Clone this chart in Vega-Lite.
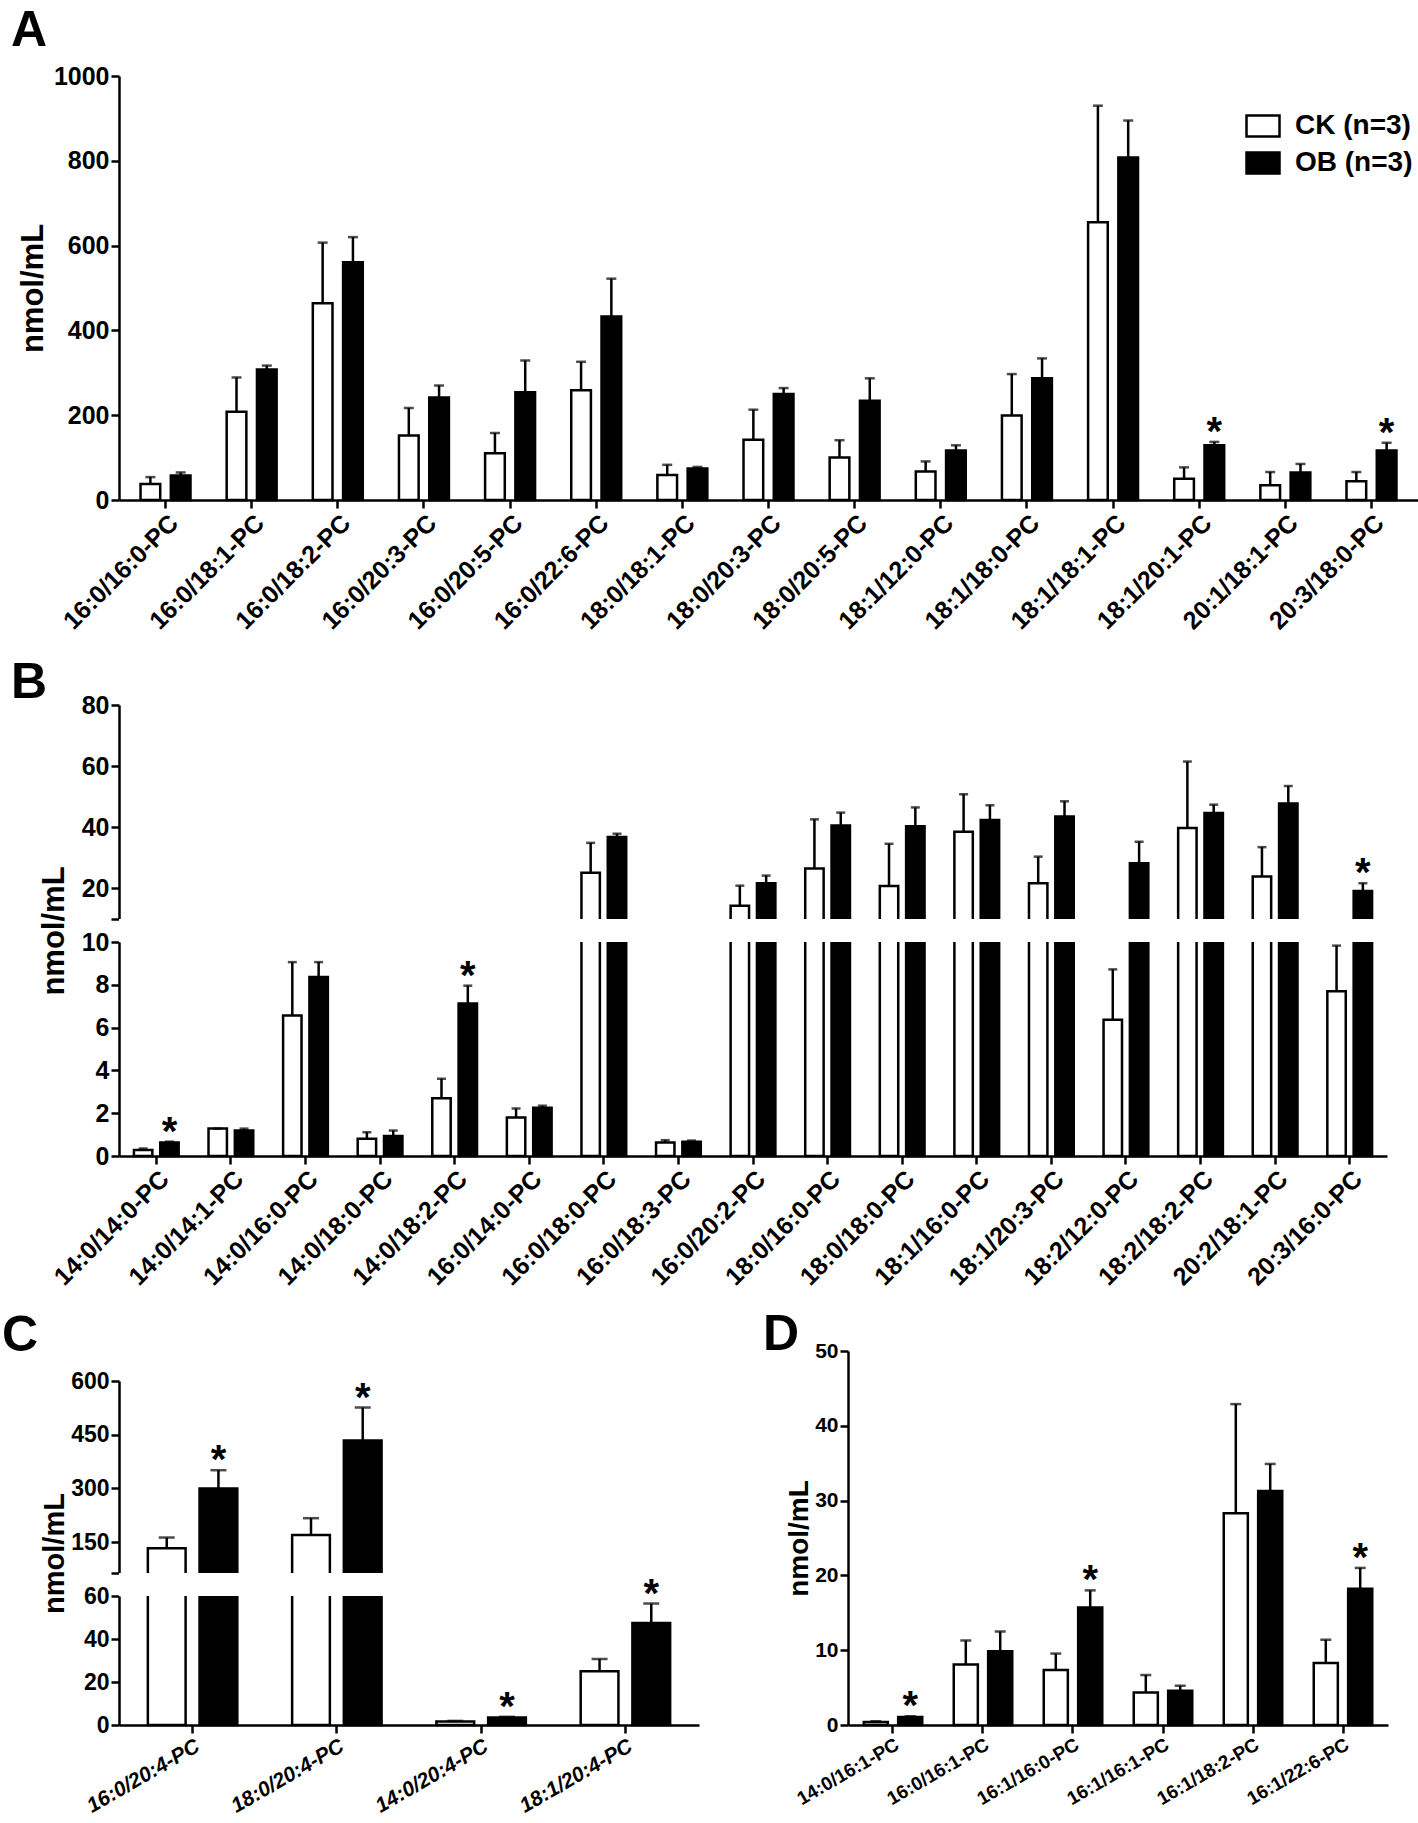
{
  "$schema": "https://vega.github.io/schema/vega-lite/v6.json",
  "background": "white",
  "padding": {"left": 2, "top": 6, "right": 5, "bottom": 3},
  "datasets": {
    "A": [
      {"lipid": "16:0/16:0-PC", "group": "CK", "mean": 38, "upper": 54, "sig": false},
      {"lipid": "16:0/16:0-PC", "group": "OB", "mean": 58, "upper": 65, "sig": false},
      {"lipid": "16:0/18:1-PC", "group": "CK", "mean": 208, "upper": 289, "sig": false},
      {"lipid": "16:0/18:1-PC", "group": "OB", "mean": 308, "upper": 317, "sig": false},
      {"lipid": "16:0/18:2-PC", "group": "CK", "mean": 464, "upper": 607, "sig": false},
      {"lipid": "16:0/18:2-PC", "group": "OB", "mean": 561, "upper": 620, "sig": false},
      {"lipid": "16:0/20:3-PC", "group": "CK", "mean": 152, "upper": 217, "sig": false},
      {"lipid": "16:0/20:3-PC", "group": "OB", "mean": 242, "upper": 270, "sig": false},
      {"lipid": "16:0/20:5-PC", "group": "CK", "mean": 110, "upper": 158, "sig": false},
      {"lipid": "16:0/20:5-PC", "group": "OB", "mean": 254, "upper": 329, "sig": false},
      {"lipid": "16:0/22:6-PC", "group": "CK", "mean": 259, "upper": 326, "sig": false},
      {"lipid": "16:0/22:6-PC", "group": "OB", "mean": 433, "upper": 522, "sig": false},
      {"lipid": "18:0/18:1-PC", "group": "CK", "mean": 59, "upper": 83, "sig": false},
      {"lipid": "18:0/18:1-PC", "group": "OB", "mean": 74, "upper": 78, "sig": false},
      {"lipid": "18:0/20:3-PC", "group": "CK", "mean": 142, "upper": 213, "sig": false},
      {"lipid": "18:0/20:3-PC", "group": "OB", "mean": 250, "upper": 264, "sig": false},
      {"lipid": "18:0/20:5-PC", "group": "CK", "mean": 100, "upper": 141, "sig": false},
      {"lipid": "18:0/20:5-PC", "group": "OB", "mean": 234, "upper": 287, "sig": false},
      {"lipid": "18:1/12:0-PC", "group": "CK", "mean": 67, "upper": 91, "sig": false},
      {"lipid": "18:1/12:0-PC", "group": "OB", "mean": 117, "upper": 129, "sig": false},
      {"lipid": "18:1/18:0-PC", "group": "CK", "mean": 199, "upper": 297, "sig": false},
      {"lipid": "18:1/18:0-PC", "group": "OB", "mean": 287, "upper": 334, "sig": false},
      {"lipid": "18:1/18:1-PC", "group": "CK", "mean": 655, "upper": 930, "sig": false},
      {"lipid": "18:1/18:1-PC", "group": "OB", "mean": 808, "upper": 895, "sig": false},
      {"lipid": "18:1/20:1-PC", "group": "CK", "mean": 50, "upper": 77, "sig": false},
      {"lipid": "18:1/20:1-PC", "group": "OB", "mean": 129, "upper": 137, "sig": true},
      {"lipid": "20:1/18:1-PC", "group": "CK", "mean": 35, "upper": 66, "sig": false},
      {"lipid": "20:1/18:1-PC", "group": "OB", "mean": 65, "upper": 85, "sig": false},
      {"lipid": "20:3/18:0-PC", "group": "CK", "mean": 44, "upper": 66, "sig": false},
      {"lipid": "20:3/18:0-PC", "group": "OB", "mean": 117, "upper": 135, "sig": true}
    ],
    "B": [
      {"lipid": "14:0/14:0-PC", "group": "CK", "mean": 0.28, "upper": 0.35, "sig": false},
      {"lipid": "14:0/14:0-PC", "group": "OB", "mean": 0.63, "upper": 0.67, "sig": true},
      {"lipid": "14:0/14:1-PC", "group": "CK", "mean": 1.28, "upper": 1.28, "sig": false},
      {"lipid": "14:0/14:1-PC", "group": "OB", "mean": 1.19, "upper": 1.28, "sig": false},
      {"lipid": "14:0/16:0-PC", "group": "CK", "mean": 6.56, "upper": 9.06, "sig": false},
      {"lipid": "14:0/16:0-PC", "group": "OB", "mean": 8.37, "upper": 9.06, "sig": false},
      {"lipid": "14:0/18:0-PC", "group": "CK", "mean": 0.81, "upper": 1.11, "sig": false},
      {"lipid": "14:0/18:0-PC", "group": "OB", "mean": 0.94, "upper": 1.19, "sig": false},
      {"lipid": "14:0/18:2-PC", "group": "CK", "mean": 2.7, "upper": 3.61, "sig": false},
      {"lipid": "14:0/18:2-PC", "group": "OB", "mean": 7.13, "upper": 7.96, "sig": true},
      {"lipid": "16:0/14:0-PC", "group": "CK", "mean": 1.8, "upper": 2.22, "sig": false},
      {"lipid": "16:0/14:0-PC", "group": "OB", "mean": 2.26, "upper": 2.35, "sig": false},
      {"lipid": "16:0/18:0-PC", "group": "CK", "mean": 25.1, "upper": 34.9, "sig": false},
      {"lipid": "16:0/18:0-PC", "group": "OB", "mean": 36.8, "upper": 37.9, "sig": false},
      {"lipid": "16:0/18:3-PC", "group": "CK", "mean": 0.63, "upper": 0.74, "sig": false},
      {"lipid": "16:0/18:3-PC", "group": "OB", "mean": 0.67, "upper": 0.72, "sig": false},
      {"lipid": "16:0/20:2-PC", "group": "CK", "mean": 14.3, "upper": 20.9, "sig": false},
      {"lipid": "16:0/20:2-PC", "group": "OB", "mean": 21.7, "upper": 24.2, "sig": false},
      {"lipid": "18:0/16:0-PC", "group": "CK", "mean": 26.5, "upper": 42.6, "sig": false},
      {"lipid": "18:0/16:0-PC", "group": "OB", "mean": 40.6, "upper": 44.8, "sig": false},
      {"lipid": "18:0/18:0-PC", "group": "CK", "mean": 20.8, "upper": 34.6, "sig": false},
      {"lipid": "18:0/18:0-PC", "group": "OB", "mean": 40.3, "upper": 46.5, "sig": false},
      {"lipid": "18:1/16:0-PC", "group": "CK", "mean": 38.5, "upper": 50.8, "sig": false},
      {"lipid": "18:1/16:0-PC", "group": "OB", "mean": 42.4, "upper": 47.2, "sig": false},
      {"lipid": "18:1/20:3-PC", "group": "CK", "mean": 21.7, "upper": 30.4, "sig": false},
      {"lipid": "18:1/20:3-PC", "group": "OB", "mean": 43.5, "upper": 48.5, "sig": false},
      {"lipid": "18:2/12:0-PC", "group": "CK", "mean": 6.37, "upper": 8.72, "sig": false},
      {"lipid": "18:2/12:0-PC", "group": "OB", "mean": 28.2, "upper": 35.3, "sig": false},
      {"lipid": "18:2/18:2-PC", "group": "CK", "mean": 39.8, "upper": 61.5, "sig": false},
      {"lipid": "18:2/18:2-PC", "group": "OB", "mean": 44.7, "upper": 47.4, "sig": false},
      {"lipid": "20:2/18:1-PC", "group": "CK", "mean": 23.9, "upper": 33.5, "sig": false},
      {"lipid": "20:2/18:1-PC", "group": "OB", "mean": 47.8, "upper": 53.5, "sig": false},
      {"lipid": "20:3/16:0-PC", "group": "CK", "mean": 7.7, "upper": 9.83, "sig": false},
      {"lipid": "20:3/16:0-PC", "group": "OB", "mean": 19.2, "upper": 21.7, "sig": true}
    ],
    "C": [
      {"lipid": "16:0/20:4-PC", "group": "CK", "mean": 133, "upper": 163, "sig": false},
      {"lipid": "16:0/20:4-PC", "group": "OB", "mean": 300, "upper": 351, "sig": true},
      {"lipid": "18:0/20:4-PC", "group": "CK", "mean": 170, "upper": 217, "sig": false},
      {"lipid": "18:0/20:4-PC", "group": "OB", "mean": 434, "upper": 526, "sig": true},
      {"lipid": "14:0/20:4-PC", "group": "CK", "mean": 1.6, "upper": 1.9, "sig": false},
      {"lipid": "14:0/20:4-PC", "group": "OB", "mean": 3.5, "upper": 3.8, "sig": true},
      {"lipid": "18:1/20:4-PC", "group": "CK", "mean": 25.0, "upper": 30.7, "sig": false},
      {"lipid": "18:1/20:4-PC", "group": "OB", "mean": 47.4, "upper": 56.5, "sig": true}
    ],
    "D": [
      {"lipid": "14:0/16:1-PC", "group": "CK", "mean": 0.4, "upper": 0.5, "sig": false},
      {"lipid": "14:0/16:1-PC", "group": "OB", "mean": 1.08, "upper": 1.17, "sig": true},
      {"lipid": "16:0/16:1-PC", "group": "CK", "mean": 8.1, "upper": 11.3, "sig": false},
      {"lipid": "16:0/16:1-PC", "group": "OB", "mean": 9.87, "upper": 12.5, "sig": false},
      {"lipid": "16:1/16:0-PC", "group": "CK", "mean": 7.35, "upper": 9.55, "sig": false},
      {"lipid": "16:1/16:0-PC", "group": "OB", "mean": 15.7, "upper": 18.0, "sig": true},
      {"lipid": "16:1/16:1-PC", "group": "CK", "mean": 4.35, "upper": 6.68, "sig": false},
      {"lipid": "16:1/16:1-PC", "group": "OB", "mean": 4.57, "upper": 5.25, "sig": false},
      {"lipid": "16:1/18:2-PC", "group": "CK", "mean": 28.3, "upper": 42.9, "sig": false},
      {"lipid": "16:1/18:2-PC", "group": "OB", "mean": 31.3, "upper": 34.9, "sig": false},
      {"lipid": "16:1/22:6-PC", "group": "CK", "mean": 8.3, "upper": 11.4, "sig": false},
      {"lipid": "16:1/22:6-PC", "group": "OB", "mean": 18.2, "upper": 21.0, "sig": true}
    ]
  },
  "vconcat": [
    {
      "spacing": 24,
      "resolve": {"scale": {"xOffset": "independent"}},
      "vconcat": [
        {
          "title": {"text": "A", "dx": -108, "offset": 8},
          "width": 1299,
          "height": 424,
          "data": {"name": "A"},
          "layer": [
            {"mark": {"type": "bar", "stroke": "black", "strokeWidth": 2.5, "strokeJoin": "miter"},
             "encoding": {
               "x": {"field": "lipid", "type": "nominal", "sort": null, "title": null,
                     "scale": {"paddingInner": 0.42, "paddingOuter": 0.25},
                     "axis": {"labelAngle": -45, "labelFontSize": 25}},
               "xOffset": {"field": "group", "type": "nominal", "scale": {"paddingInner": 0.35, "paddingOuter": 0}},
               "y": {"field": "mean", "type": "quantitative", "title": "nmol/mL",
                     "scale": {"domain": [0, 1000], "nice": false},
                     "axis": {"values": [0, 200, 400, 600, 800, 1000], "format": "d", "titlePadding": 4, "labelFontSize": 25, "titleFontSize": 31}},
               "fill": {"field": "group", "type": "nominal",
                "scale": {"domain": ["CK", "OB"], "range": ["white", "black"]},
                "legend": {"orient": "none", "legendX": 1126, "legendY": 32, "title": null,
                  "labelExpr": "datum.label + ' (n=3)'",
                  "symbolType": "M-1,-0.64L1,-0.64L1,0.64L-1,0.64Z", "symbolSize": 1089,
                  "symbolStrokeColor": "black", "symbolStrokeWidth": 2.5,
                  "labelFontSize": 28, "labelFontWeight": "bold", "labelColor": "black",
                  "labelOffset": 14, "rowPadding": 3}}}},
            {"mark": {"type": "rule", "color": "black", "strokeWidth": 2.5},
             "encoding": {
               "x": {"field": "lipid", "type": "nominal", "sort": null, "title": null},
               "xOffset": {"field": "group", "type": "nominal"},
               "y": {"field": "mean", "type": "quantitative", "title": "nmol/mL"},
               "y2": {"field": "upper"}}},
            {"mark": {"type": "tick", "color": "black", "thickness": 2.5, "size": 10},
             "encoding": {
               "x": {"field": "lipid", "type": "nominal", "sort": null, "title": null},
               "xOffset": {"field": "group", "type": "nominal"},
               "y": {"field": "upper", "type": "quantitative", "title": "nmol/mL"}}},
            {"transform": [{"filter": "datum.sig"}],
             "mark": {"type": "text", "text": "*", "fontSize": 40, "fontWeight": "bold", "baseline": "alphabetic", "dy": 3, "color": "black"},
             "encoding": {
               "x": {"field": "lipid", "type": "nominal", "sort": null, "title": null},
               "xOffset": {"field": "group", "type": "nominal"},
               "y": {"field": "upper", "type": "quantitative", "title": "nmol/mL"}}}
          ]
        },
        {
          "title": {"text": "B", "dx": -108, "offset": -15},
          "width": 1268,
          "height": 451,
          "data": {"name": "B"},
          "layer": [
            {"mark": {"type": "bar", "stroke": "black", "strokeWidth": 2.5, "strokeJoin": "miter"},
             "encoding": {
               "x": {"field": "lipid", "type": "nominal", "sort": null, "title": null,
                     "scale": {"paddingInner": 0.4, "paddingOuter": 0.2},
                     "axis": {"labelAngle": -45, "labelFontSize": 25}},
               "xOffset": {"field": "group", "type": "nominal", "scale": {"paddingInner": 0.3, "paddingOuter": 0}},
               "y": {"field": "mean", "type": "quantitative", "title": "nmol/mL",
                     "scale": {"domain": [0, 10, 10.001, 80], "range": [451, 237, 214, 0], "nice": false, "zero": false},
                     "axis": {"values": [0, 2, 4, 6, 8, 10, 10.001, 20, 40, 60, 80], "format": "d",
                              "labelExpr": "datum.value == 10.001 ? '' : datum.label",
                              "domainDash": [214, 23, 214],
                              "titlePadding": 11, "labelFontSize": 25, "titleFontSize": 31}},
               "fill": {"field": "group", "type": "nominal",
                "scale": {"domain": ["CK", "OB"], "range": ["white", "black"]}, "legend": null}}},
            {"mark": {"type": "rule", "color": "black", "strokeWidth": 2.5},
             "encoding": {
               "x": {"field": "lipid", "type": "nominal", "sort": null, "title": null},
               "xOffset": {"field": "group", "type": "nominal"},
               "y": {"field": "mean", "type": "quantitative", "title": "nmol/mL"},
               "y2": {"field": "upper"}}},
            {"mark": {"type": "tick", "color": "black", "thickness": 2.5, "size": 9},
             "encoding": {
               "x": {"field": "lipid", "type": "nominal", "sort": null, "title": null},
               "xOffset": {"field": "group", "type": "nominal"},
               "y": {"field": "upper", "type": "quantitative", "title": "nmol/mL"}}},
            {"data": {"values": [{"part": "axis break"}]},
             "mark": {"type": "rect", "fill": "white"},
             "encoding": {
               "y": {"datum": 10, "type": "quantitative", "title": "nmol/mL"},
               "y2": {"datum": 10.001}}},
            {"transform": [{"filter": "datum.sig"}],
             "mark": {"type": "text", "text": "*", "fontSize": 40, "fontWeight": "bold", "baseline": "alphabetic", "dy": 3, "color": "black"},
             "encoding": {
               "x": {"field": "lipid", "type": "nominal", "sort": null, "title": null},
               "xOffset": {"field": "group", "type": "nominal"},
               "y": {"field": "upper", "type": "quantitative", "title": "nmol/mL"}}}
          ]
        }
      ]
    },
    {
      "spacing": 64,
      "resolve": {"scale": {"xOffset": "independent"}},
      "hconcat": [
        {
          "title": {"text": "C", "dx": -117, "offset": -10},
          "width": 580,
          "height": 374,
          "data": {"name": "C"},
          "layer": [
            {"mark": {"type": "bar", "stroke": "black", "strokeWidth": 2.5, "strokeJoin": "miter"},
             "encoding": {
               "x": {"field": "lipid", "type": "nominal", "sort": null, "title": null,
                     "scale": {"paddingInner": 0.38, "paddingOuter": 0.2},
                     "axis": {"labelAngle": -30, "labelFontSize": 21, "labelFontStyle": "italic"}},
               "xOffset": {"field": "group", "type": "nominal", "scale": {"paddingInner": 0.27, "paddingOuter": 0}},
               "y": {"field": "mean", "type": "quantitative", "title": "nmol/mL",
                     "scale": {"domain": [0, 60, 64, 600], "range": [374, 245, 222, 30], "nice": false, "zero": false},
                     "axis": {"values": [0, 20, 40, 60, 64, 150, 300, 450, 600], "format": "d",
                              "labelExpr": "datum.value == 64 ? '' : datum.label",
                              "domainDash": [129, 23, 192],
                              "titlePadding": 1, "labelFontSize": 23, "titleFontSize": 29}},
               "fill": {"field": "group", "type": "nominal",
                "scale": {"domain": ["CK", "OB"], "range": ["white", "black"]}, "legend": null}}},
            {"mark": {"type": "rule", "color": "black", "strokeWidth": 2.5},
             "encoding": {
               "x": {"field": "lipid", "type": "nominal", "sort": null, "title": null},
               "xOffset": {"field": "group", "type": "nominal"},
               "y": {"field": "mean", "type": "quantitative", "title": "nmol/mL"},
               "y2": {"field": "upper"}}},
            {"mark": {"type": "tick", "color": "black", "thickness": 2.5, "size": 16},
             "encoding": {
               "x": {"field": "lipid", "type": "nominal", "sort": null, "title": null},
               "xOffset": {"field": "group", "type": "nominal"},
               "y": {"field": "upper", "type": "quantitative", "title": "nmol/mL"}}},
            {"data": {"values": [{"part": "axis break"}]},
             "mark": {"type": "rect", "fill": "white"},
             "encoding": {
               "y": {"datum": 60, "type": "quantitative", "title": "nmol/mL"},
               "y2": {"datum": 64}}},
            {"transform": [{"filter": "datum.sig"}],
             "mark": {"type": "text", "text": "*", "fontSize": 40, "fontWeight": "bold", "baseline": "alphabetic", "dy": 3, "color": "black"},
             "encoding": {
               "x": {"field": "lipid", "type": "nominal", "sort": null, "title": null},
               "xOffset": {"field": "group", "type": "nominal"},
               "y": {"field": "upper", "type": "quantitative", "title": "nmol/mL"}}}
          ]
        },
        {
          "title": {"text": "D", "dx": -85, "offset": -20},
          "width": 540,
          "height": 374,
          "data": {"name": "D"},
          "layer": [
            {"mark": {"type": "bar", "stroke": "black", "strokeWidth": 2.5, "strokeJoin": "miter"},
             "encoding": {
               "x": {"field": "lipid", "type": "nominal", "sort": null, "title": null,
                     "scale": {"paddingInner": 0.35, "paddingOuter": 0.175},
                     "axis": {"labelAngle": -30, "labelFontSize": 19}},
               "xOffset": {"field": "group", "type": "nominal", "scale": {"paddingInner": 0.3, "paddingOuter": 0}},
               "y": {"field": "mean", "type": "quantitative", "title": "nmol/mL",
                     "scale": {"domain": [0, 50], "nice": false},
                     "axis": {"values": [0, 10, 20, 30, 40, 50], "format": "d", "titlePadding": 1, "labelFontSize": 21, "titleFontSize": 28}},
               "fill": {"field": "group", "type": "nominal",
                "scale": {"domain": ["CK", "OB"], "range": ["white", "black"]}, "legend": null}}},
            {"mark": {"type": "rule", "color": "black", "strokeWidth": 2.5},
             "encoding": {
               "x": {"field": "lipid", "type": "nominal", "sort": null, "title": null},
               "xOffset": {"field": "group", "type": "nominal"},
               "y": {"field": "mean", "type": "quantitative", "title": "nmol/mL"},
               "y2": {"field": "upper"}}},
            {"mark": {"type": "tick", "color": "black", "thickness": 2.5, "size": 11},
             "encoding": {
               "x": {"field": "lipid", "type": "nominal", "sort": null, "title": null},
               "xOffset": {"field": "group", "type": "nominal"},
               "y": {"field": "upper", "type": "quantitative", "title": "nmol/mL"}}},
            {"transform": [{"filter": "datum.sig"}],
             "mark": {"type": "text", "text": "*", "fontSize": 40, "fontWeight": "bold", "baseline": "alphabetic", "dy": 3, "color": "black"},
             "encoding": {
               "x": {"field": "lipid", "type": "nominal", "sort": null, "title": null},
               "xOffset": {"field": "group", "type": "nominal"},
               "y": {"field": "upper", "type": "quantitative", "title": "nmol/mL"}}}
          ]
        }
      ]
    }
  ],
  "spacing": 20,
  "resolve": {"scale": {"xOffset": "independent"}},
  "config": {
    "font": "Liberation Sans",
    "view": {"stroke": null},
    "axis": {
      "domainColor": "black", "domainWidth": 2.5, "tickColor": "black", "tickWidth": 2.5, "tickSize": 8,
      "labelColor": "black", "labelFontWeight": "bold", "titleColor": "black", "titleFontWeight": "bold",
      "grid": false, "labelPadding": 2, "zindex": 0, "labelOverlap": false
    },
    "title": {"fontSize": 50, "fontWeight": "bold", "anchor": "start", "frame": "group", "color": "black"}
  }
}
